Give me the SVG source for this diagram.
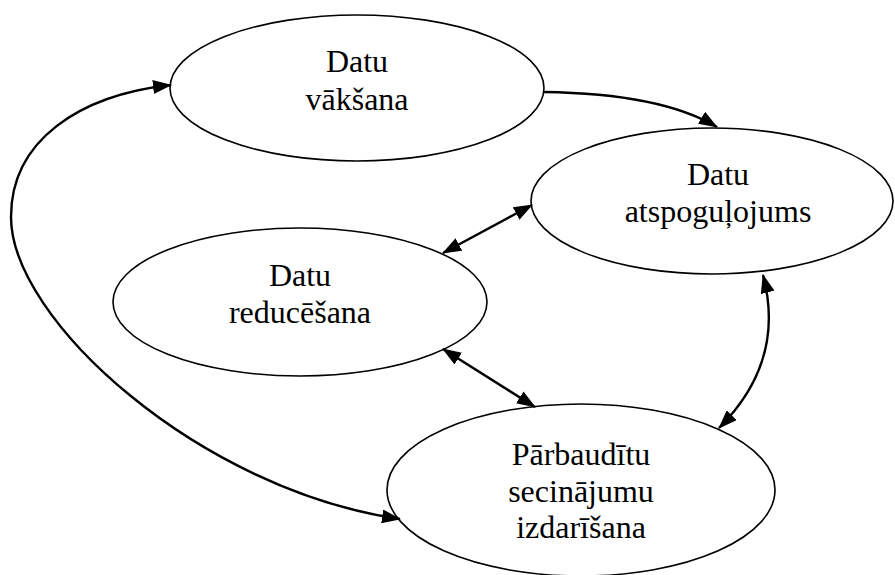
<svg xmlns="http://www.w3.org/2000/svg" width="895" height="575" viewBox="0 0 895 575">
<style>
.node ellipse{fill:#fff;stroke:#000;stroke-width:1.6}
.node text{font-size:32px;fill:#000;text-anchor:middle}
.conn path{fill:none;stroke:#000;stroke-width:2.4}
</style>
<defs>
<marker id="ah" viewBox="0 0 19 14" refX="18" refY="7" markerWidth="19" markerHeight="14" markerUnits="userSpaceOnUse" orient="auto-start-reverse">
<path d="M0,0 L19,7 L0,14 z" fill="#000"/>
</marker>
</defs>
<rect width="895" height="575" fill="#fff"/>
<g font-family="Liberation Serif, serif">
<g id="n1" class="node">
<ellipse cx="357" cy="88" rx="187" ry="73"/>
<text x="357" y="72">Datu</text>
<text x="357" y="110">vākšana</text>
</g>
<g id="n2" class="node">
<ellipse cx="712" cy="201" rx="181" ry="73"/>
<text x="718" y="185">Datu</text>
<text x="718" y="222">atspoguļojums</text>
</g>
<g id="n3" class="node">
<ellipse cx="300" cy="302" rx="187" ry="74"/>
<text x="300" y="286">Datu</text>
<text x="300" y="323">reducēšana</text>
</g>
<g id="n4" class="node">
<ellipse cx="581" cy="490" rx="194" ry="86"/>
<text x="581" y="465">Pārbaudītu</text>
<text x="581" y="502">secinājumu</text>
<text x="581" y="538">izdarīšana</text>
</g>
</g>
<g id="connectors" class="conn">
<path d="M544,92 C620,93 680,105 717,127" marker-end="url(#ah)"/>
<path d="M443,253 L532,205" marker-start="url(#ah)" marker-end="url(#ah)"/>
<path d="M443,349 L535,407" marker-start="url(#ah)" marker-end="url(#ah)"/>
<path d="M763,275 C775,320 772,375 719,428" marker-start="url(#ah)" marker-end="url(#ah)"/>
<path d="M171,85 C80,95 11,140 11,217 C11,320 200,490 400,519" marker-start="url(#ah)" marker-end="url(#ah)"/>
</g>
</svg>
